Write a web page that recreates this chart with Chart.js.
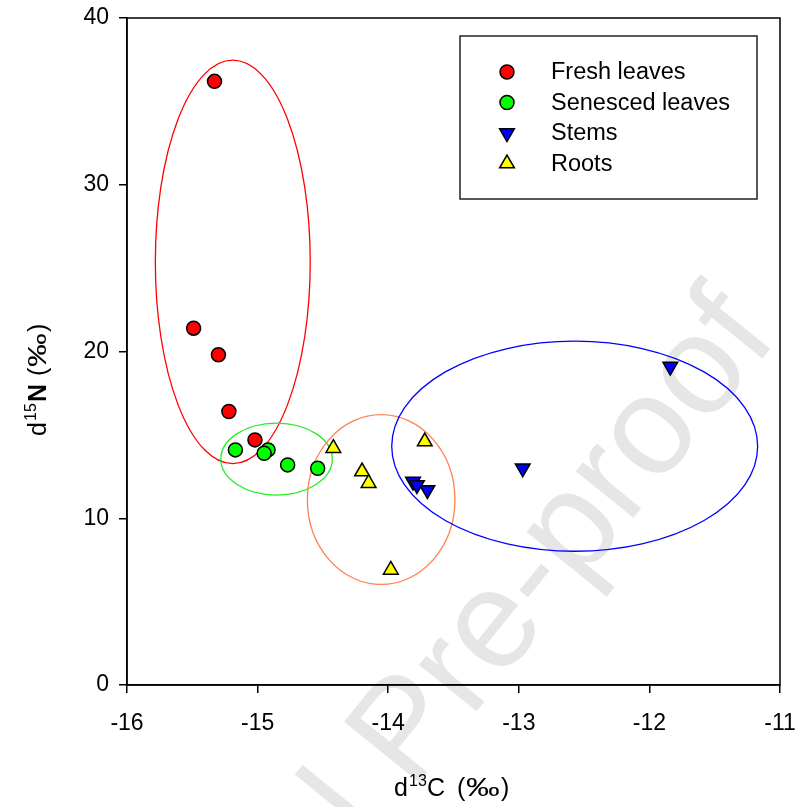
<!DOCTYPE html>
<html lang="en">

<head>
  <meta charset="UTF-8">
  <title>d13C vs d15N</title>
  <script src="https://cdn.jsdelivr.net/npm/chart.js"></script>
  <style>
    body { margin: 0; background: #fff; }
    #wrap { width: 798px; height: 807px; }
  </style>
</head>

<body>
  <div id="wrap"><canvas id="isoChart" width="798" height="807"></canvas></div>

  <script>
    // data (d13C on x, d15N on y)
    const freshX = [-15.33, -15.49, -15.30, -15.22, -15.02];
    const freshY = [36.2, 21.4, 19.8, 16.4, 14.7];
    const senescedX = [-15.17, -14.92, -14.95, -14.77, -14.54];
    const senescedY = [14.1, 14.1, 13.9, 13.2, 13.0];
    const stemsX = [-11.84, -12.97, -13.81, -13.78, -13.70];
    const stemsY = [19.1, 13.0, 12.2, 12.0, 11.7];
    const rootsX = [-14.42, -14.20, -14.15, -13.98, -13.72];
    const rootsY = [14.2, 12.8, 12.1, 6.9, 14.6];

    const seriesNames = ['Fresh leaves', 'Senesced leaves', 'Stems', 'Roots'];
    const xTicks = [-16, -15, -14, -13, -12, -11];
    const yTicks = [0, 10, 20, 30, 40];

    // group ellipses: centre and half-axes in data units
    const ellipseCx = [-15.19, -14.855, -14.054, -12.572];
    const ellipseCy = [25.37, 13.55, 11.12, 14.32];
    const ellipseRx = [0.593, 0.427, 0.565, 1.401];
    const ellipseRy = [12.1, 2.16, 5.09, 6.30];
    const ellipseColors = ['#ff0000', '#22ee22', '#ff8050', '#0000ff'];

    const FONT = "Arial, 'Liberation Sans', sans-serif";

    function toPoints(xs, ys) {
      return xs.map((x, i) => ({ x: x, y: ys[i] }));
    }

    // light watermark behind everything
    const watermark = {
      id: 'watermark',
      beforeDraw(chart) {
        const ctx = chart.ctx;
        ctx.save();
        ctx.fillStyle = '#e6e6e6';
        ctx.font = '140px ' + FONT;
        ctx.translate(374, 838);
        ctx.rotate(-51 * Math.PI / 180);
        ctx.textBaseline = 'alphabetic';
        const off = ctx.measureText('Journa').width + 10;
        ctx.fillText('Journal Pre-proof', -off, 0);
        ctx.restore();
      }
    };

    const ellipses = {
      id: 'ellipses',
      beforeDatasetsDraw(chart) {
        const ctx = chart.ctx;
        const xs = chart.scales.x, ys = chart.scales.y;
        ctx.save();
        ctx.lineWidth = 1.3;
        ellipseCx.forEach((cx, i) => {
          const px = xs.getPixelForValue(cx);
          const py = ys.getPixelForValue(ellipseCy[i]);
          const rx = Math.abs(xs.getPixelForValue(cx + ellipseRx[i]) - px);
          const ry = Math.abs(ys.getPixelForValue(ellipseCy[i] + ellipseRy[i]) - py);
          ctx.strokeStyle = ellipseColors[i];
          ctx.beginPath();
          ctx.ellipse(px, py, rx, ry, 0, 0, Math.PI * 2);
          ctx.stroke();
        });
        ctx.restore();
      }
    };

    // pieces: [text, font, offset along the line, raise, horizontal stretch]
    function drawPieces(ctx, pieces) {
      pieces.forEach(p => {
        ctx.save();
        ctx.font = p[1];
        ctx.translate(p[2], -p[3]);
        ctx.scale(p[4] || 1, 1);
        ctx.fillText(p[0], 0, 0);
        ctx.restore();
      });
    }

    // frame, axis titles and the boxed legend
    const decorations = {
      id: 'decorations',
      afterDraw(chart) {
        const ctx = chart.ctx;
        const a = chart.chartArea;
        ctx.save();
        ctx.strokeStyle = '#000';
        ctx.lineWidth = 1.5;
        ctx.strokeRect(a.left, a.top, a.right - a.left, a.bottom - a.top);

        ctx.fillStyle = '#000';
        ctx.textAlign = 'left';
        ctx.textBaseline = 'alphabetic';
        const big = '25px ' + FONT, sup = '16px ' + FONT;

        ctx.save();
        ctx.translate(394, 796);
        drawPieces(ctx, [
          ['d', big, 0, 0], ['13', sup, 15, 10], ['C', big, 33, 0],
          ['(', big, 63, 0], ['\u2030', big, 72, 0, 1.35], [')', big, 107, 0]
        ]);
        ctx.restore();

        ctx.save();
        ctx.translate(46, 436);
        ctx.rotate(-Math.PI / 2);
        drawPieces(ctx, [
          ['d', big, 0, 0], ['15', sup, 15, 10], ['N', 'bold ' + big, 34, 0],
          ['(', big, 60, 0], ['\u2030', big, 69, 0, 1.35], [')', big, 104, 0]
        ]);
        ctx.restore();

        // legend
        ctx.lineWidth = 1.5;
        ctx.strokeStyle = '#222';
        ctx.strokeRect(460, 36, 297, 163);
        ctx.font = '23.5px ' + FONT;
        ctx.textBaseline = 'middle';
        chart.data.datasets.forEach((ds, i) => {
          const y = 72 + i * 30.5;
          ctx.fillStyle = ds.backgroundColor;
          ctx.strokeStyle = '#000';
          ctx.lineWidth = 1.5;
          Chart.helpers.drawPoint(ctx, {
            pointStyle: ds.pointStyle,
            radius: ds.pointRadius,
            rotation: ds.rotation || 0,
            borderWidth: 1.5
          }, 507, y);
          ctx.fillStyle = '#000';
          ctx.fillText(seriesNames[i], 551, y + 1);
        });
        ctx.restore();
      }
    };

    function makeSet(i, xs, ys, color, style, radius, rotation) {
      return {
        label: seriesNames[i],
        data: toPoints(xs, ys),
        backgroundColor: color,
        borderColor: '#000',
        borderWidth: 1.5,
        pointStyle: style,
        pointRadius: radius,
        pointHoverRadius: radius,
        rotation: rotation,
        pointRotation: rotation
      };
    }

    const ctx = document.getElementById('isoChart').getContext('2d');
    new Chart(ctx, {
      type: 'scatter',
      data: {
        datasets: [
          makeSet(0, freshX, freshY, '#ff0000', 'circle', 7, 0),
          makeSet(1, senescedX, senescedY, '#00ff00', 'circle', 7, 0),
          makeSet(2, stemsX, stemsY, '#0000ff', 'triangle', 8.5, 180),
          makeSet(3, rootsX, rootsY, '#ffff00', 'triangle', 8.5, 0)
        ]
      },
      options: {
        responsive: false,
        animation: false,
        layout: { padding: { top: 18, right: 18, left: 0, bottom: 0 } },
        plugins: {
          legend: { display: false },
          tooltip: { enabled: false }
        },
        scales: {
          x: {
            type: 'linear',
            min: -16,
            max: -11,
            afterBuildTicks: s => { s.ticks = xTicks.map(v => ({ value: v })); },
            afterFit: s => { s.height = 122; s.paddingLeft = 0; s.paddingRight = 0; },
            grid: { drawOnChartArea: false, drawTicks: true, tickLength: 8, color: '#000', lineWidth: 1.5 },
            border: { display: true, color: '#000', width: 1.5 },
            ticks: { color: '#000', font: { size: 23, family: FONT }, padding: 17, maxRotation: 0 }
          },
          y: {
            type: 'linear',
            min: 0,
            max: 40,
            afterBuildTicks: s => { s.ticks = yTicks.map(v => ({ value: v })); },
            afterFit: s => { s.width = 127; s.paddingTop = 0; s.paddingBottom = 0; },
            grid: { drawOnChartArea: false, drawTicks: true, tickLength: 8, color: '#000', lineWidth: 1.5 },
            border: { display: true, color: '#000', width: 1.5 },
            ticks: { color: '#000', font: { size: 23, family: FONT }, padding: 10 }
          }
        }
      },
      plugins: [watermark, ellipses, decorations]
    });
  </script>
</body>

</html>
